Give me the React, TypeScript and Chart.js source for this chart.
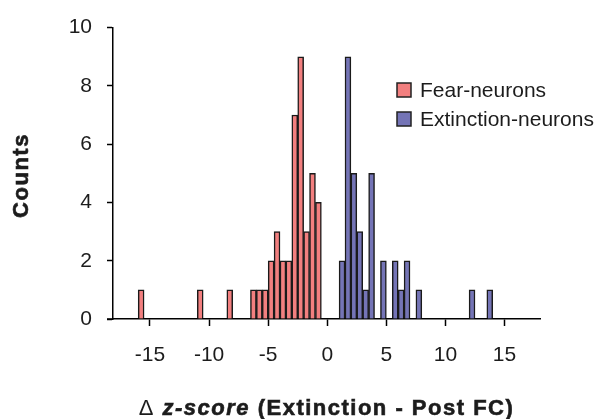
import React, { useEffect, useRef } from "react";
import { Chart, registerables } from "chart.js";

Chart.register(...registerables);

// Histogram bins (left edge of each 0.5-wide bin) and their counts
const BIN_WIDTH = 0.5;
const fearBinStarts = [-16, -11, -8.5, -6.5, -6, -5.5, -5, -4.5, -4, -3.5, -3, -2.5, -2, -1.5, -1];
const fearCounts = [1, 1, 1, 1, 1, 1, 2, 3, 2, 2, 7, 9, 3, 5, 4];
const extinctionBinStarts = [1, 1.5, 2, 2.5, 3, 3.5, 4.5, 5.5, 6, 6.5, 7.5, 12, 13.5];
const extinctionCounts = [2, 9, 5, 3, 1, 5, 2, 2, 1, 2, 1, 1, 1];

const seriesLabels = ["Fear-neurons", "Extinction-neurons"];
const seriesColors = ["#F27F7F", "#7474B6"];

const xTickValues = [-15, -10, -5, 0, 5, 10, 15];
const yTickValues = [0, 2, 4, 6, 8, 10];

const FONT = '"Liberation Sans", Arial, Helvetica, sans-serif';
const INK = "#1c1c1c";

const toPoints = (starts: number[], counts: number[]) =>
  starts.map((s, i) => ({ x: s + BIN_WIDTH / 2, y: counts[i] }));

const decorations = {
  id: "decorations",
  afterDraw(chart: any) {
    const { ctx, chartArea } = chart;
    ctx.save();

    // x axis line runs a little past the y axis on the left
    ctx.strokeStyle = "#000";
    ctx.lineWidth = 1.5;
    ctx.beginPath();
    ctx.moveTo(chartArea.left - 6, chartArea.bottom);
    ctx.lineTo(chartArea.left, chartArea.bottom);
    ctx.stroke();

    // legend
    const datasets = chart.data.datasets;
    datasets.forEach((ds: any, i: number) => {
      const bx = 397;
      const by = 83 + i * 29;
      ctx.fillStyle = ds.backgroundColor;
      ctx.fillRect(bx, by, 14, 14);
      ctx.strokeStyle = "#222";
      ctx.lineWidth = 1.5;
      ctx.strokeRect(bx, by, 14, 14);
      ctx.fillStyle = INK;
      ctx.font = `21px ${FONT}`;
      ctx.textAlign = "left";
      ctx.textBaseline = "middle";
      ctx.fillText(ds.label, 420, by + 8);
    });

    // x axis title with mixed styles
    const parts = [
      { text: "\u0394 ", font: `22px ${FONT}`, heavy: false },
      { text: "z-score", font: `italic bold 22px ${FONT}`, heavy: true },
      { text: " (Extinction - Post FC)", font: `bold 22px ${FONT}`, heavy: true },
    ];
    (ctx as any).letterSpacing = "1.5px";
    let total = 0;
    const widths = parts.map((p) => {
      ctx.font = p.font;
      const w = ctx.measureText(p.text).width;
      total += w;
      return w;
    });
    let x = 326.5 - total / 2;
    ctx.fillStyle = INK;
    ctx.strokeStyle = INK;
    ctx.lineWidth = 0.6;
    ctx.textAlign = "left";
    ctx.textBaseline = "alphabetic";
    parts.forEach((p, i) => {
      ctx.font = p.font;
      ctx.fillText(p.text, x, 415);
      if (p.heavy) ctx.strokeText(p.text, x, 415);
      x += widths[i];
    });

    // y axis title
    ctx.translate(28, 175.5);
    ctx.rotate(-Math.PI / 2);
    ctx.font = `bold 22px ${FONT}`;
    (ctx as any).letterSpacing = "1.5px";
    ctx.textAlign = "center";
    ctx.textBaseline = "alphabetic";
    ctx.fillText("Counts", 0, 0);
    ctx.strokeText("Counts", 0, 0);

    ctx.restore();
  },
};

export default function App() {
  const canvasRef = useRef<HTMLCanvasElement | null>(null);

  useEffect(() => {
    const canvas = canvasRef.current;
    if (!canvas) return;

    const tickFont = { family: FONT, size: 21 };
    const barStyle = {
      grouped: false,
      barPercentage: 1,
      categoryPercentage: 1,
      borderColor: "#1a1a1a",
      borderWidth: 1.5,
    };

    const chart = new Chart(canvas, {
      type: "bar",
      data: {
        datasets: [
          {
            label: seriesLabels[0],
            data: toPoints(fearBinStarts, fearCounts),
            backgroundColor: seriesColors[0],
            ...barStyle,
          },
          {
            label: seriesLabels[1],
            data: toPoints(extinctionBinStarts, extinctionCounts),
            backgroundColor: seriesColors[1],
            ...barStyle,
          },
        ],
      },
      options: {
        animation: false,
        responsive: false,
        maintainAspectRatio: false,
        layout: { padding: { top: 23, right: 54, left: 0, bottom: 0 } },
        plugins: {
          legend: { display: false },
          tooltip: { enabled: false },
        },
        scales: {
          x: {
            type: "linear",
            min: -18.13,
            max: 18,
            offset: false,
            afterBuildTicks: (scale: any) => {
              scale.ticks = xTickValues.map((v) => ({ value: v }));
            },
            afterFit: (scale: any) => {
              scale.height = 100;
            },
            ticks: {
              font: tickFont,
              color: INK,
              padding: 17,
              maxRotation: 0,
              autoSkip: false,
            },
            grid: {
              offset: false,
              drawOnChartArea: false,
              tickLength: 7,
              tickWidth: 1.5,
              color: "#000",
            },
            border: { color: "#000", width: 1.5 },
          },
          y: {
            min: 0,
            max: 10,
            afterBuildTicks: (scale: any) => {
              scale.ticks = yTickValues.map((v) => ({ value: v }));
            },
            afterFit: (scale: any) => {
              scale.width = 113;
            },
            ticks: {
              font: tickFont,
              color: INK,
              padding: 15,
            },
            grid: {
              drawOnChartArea: false,
              tickLength: 6,
              tickWidth: 1.5,
              color: "#000",
            },
            border: { color: "#000", width: 1.5 },
          },
        },
      } as any,
      plugins: [decorations],
    });

    return () => chart.destroy();
  }, []);

  return (
    <div
      style={{
        position: "fixed",
        left: 0,
        top: 0,
        width: 594,
        height: 419,
        background: "#fff",
      }}
    >
      <canvas ref={canvasRef} width={594} height={419} style={{ display: "block" }} />
    </div>
  );
}
